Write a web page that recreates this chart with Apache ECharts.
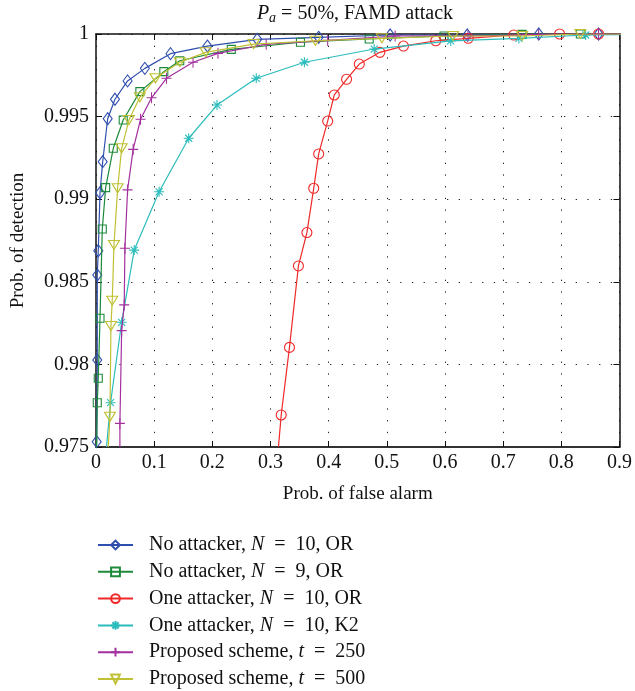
<!DOCTYPE html>
<html>
<head>
<meta charset="utf-8">
<script src="https://cdn.jsdelivr.net/npm/echarts@6/dist/echarts.min.js"></script>
<style>
html,body{margin:0;padding:0;background:#fff;}
#chart{width:635px;height:691px;}
</style>
</head>
<body>
<div id="chart"></div>
<script>
// ---- data (x = prob. of false alarm, y = prob. of detection) ----
const xTicks = [0, 0.1, 0.2, 0.3, 0.4, 0.5, 0.6, 0.7, 0.8, 0.9];
const xTickLabels = ['0', '0.1', '0.2', '0.3', '0.4', '0.5', '0.6', '0.7', '0.8', '0.9'];
const yTicks = [0.975, 0.98, 0.985, 0.99, 0.995, 1];
const yTickLabels = ['0.975', '0.98', '0.985', '0.99', '0.995', '1'];

const seriesNames = [
  'No attacker, N = 10, OR',
  'No attacker, N = 9, OR',
  'One attacker, N = 10, OR',
  'One attacker, N = 10, K2',
  'Proposed scheme, t = 250',
  'Proposed scheme, t = 500'
];
const legendLabels = [
  'No attacker, {i|N}\u2002=\u200210, OR',
  'No attacker, {i|N}\u2002=\u20029, OR',
  'One attacker, {i|N}\u2002=\u200210, OR',
  'One attacker, {i|N}\u2002=\u200210, K2',
  'Proposed scheme, {i|t}\u2002=\u2002250',
  'Proposed scheme, {i|t}\u2002=\u2002500'
];

// marked points
const noAttackerN10 = [
  [0.0012, 0.97532], [0.0022, 0.98027], [0.0022, 0.98541], [0.0039, 0.98688],
  [0.0069, 0.99039], [0.0115, 0.99227], [0.0201, 0.99487], [0.0326, 0.99605],
  [0.0543, 0.99716], [0.0840, 0.99792], [0.1281, 0.99881], [0.1915, 0.99927],
  [0.2772, 0.99968], [0.3828, 0.99980], [0.5057, 0.99994], [0.6383, 0.99994],
  [0.7612, 1.0], [0.864, 1.0]
];
const noAttackerN9 = [
  [0.0022, 0.97768], [0.0039, 0.97916], [0.0069, 0.98279], [0.0108, 0.98820],
  [0.0166, 0.99070], [0.0297, 0.99308], [0.0468, 0.99479], [0.0754, 0.99651],
  [0.1166, 0.99772], [0.1440, 0.99838], [0.2326, 0.99907], [0.3515, 0.99950],
  [0.4697, 0.99970], [0.5983, 0.99988], [0.7326, 0.99998], [0.8327, 1.0]
];
const oneAttackerOR = [
  [0.3184, 0.97694], [0.3326, 0.98103], [0.3480, 0.98596], [0.3626, 0.98798],
  [0.3743, 0.99066], [0.3828, 0.99274], [0.3983, 0.99473], [0.4097, 0.99631],
  [0.4308, 0.99726], [0.4526, 0.99818], [0.4880, 0.99889], [0.5286, 0.99927],
  [0.5841, 0.99959], [0.6400, 0.99974], [0.7183, 0.99994], [0.7970, 1.0],
  [0.8640, 1.0]
];
const oneAttackerK2 = [
  [0.0250, 0.97768], [0.0441, 0.98255], [0.0657, 0.98692], [0.1085, 0.99045],
  [0.1594, 0.99369], [0.2080, 0.99570], [0.2755, 0.99732], [0.3583, 0.99829],
  [0.4783, 0.99909], [0.6098, 0.99958], [0.7270, 0.99973], [0.8418, 0.99994]
];
const proposedT250 = [
  [0.0411, 0.97643], [0.0441, 0.98204], [0.0485, 0.98360], [0.0497, 0.98703],
  [0.0543, 0.99056], [0.0639, 0.99302], [0.0766, 0.99484], [0.0955, 0.99614],
  [0.1212, 0.99732], [0.1668, 0.99829], [0.2097, 0.99883], [0.2926, 0.99938],
  [0.3983, 0.99961], [0.5143, 0.99988], [0.6395, 0.99988], [0.7610, 0.99997],
  [0.8640, 1.0]
];
const proposedT500 = [
  [0.0240, 0.97683], [0.0257, 0.98232], [0.0279, 0.98386], [0.0309, 0.98723],
  [0.0372, 0.99066], [0.0441, 0.99308], [0.0566, 0.99479], [0.0754, 0.99617],
  [0.1023, 0.99732], [0.1440, 0.99829], [0.1886, 0.99889], [0.2709, 0.99939],
  [0.3772, 0.99959], [0.4915, 0.99974], [0.6138, 0.99988], [0.7326, 0.99988],
  [0.8327, 1.0]
];
// unmarked line end points (where each curve leaves the plotted box)
const lowerEnds = [[0.0005, 0.975], [0.001, 0.975], [0.3137, 0.975], [0.018, 0.975], [0.0411, 0.975], [0.0211, 0.975]];
const upperEnds = [[1.0, 1.0], [1.0, 1.0], [1.0, 1.0], [1.0, 1.0], [1.0, 1.0], [1.0, 1.0]];

const colors = ['#2f4fae', '#1c8a3a', '#f02828', '#2bbcbc', '#a3309e', '#c0c034'];
const symbols = [
  'diamond',
  'rect',
  'circle',
  'path://M0,-1L0,1M-1,0L1,0M-0.7,-0.7L0.7,0.7M-0.7,0.7L0.7,-0.7',
  'path://M0,-1L0,1M-1,0L1,0',
  'path://M-1,-0.85L1,-0.85L0,0.85Z'
];
const symbolSizes = [[9, 12], 8, 10, [10, 10], [10, 11], [11, 9]];
const allMarked = [noAttackerN10, noAttackerN9, oneAttackerOR, oneAttackerK2, proposedT250, proposedT500];

const FONT = 'Liberation Serif';

const series = allMarked.map((pts, k) => {
  const data = [{ value: lowerEnds[k], symbol: 'none' }]
    .concat(pts.map(p => ({ value: p })))
    .concat([{ value: upperEnds[k], symbol: 'none' }]);
  return {
    name: seriesNames[k],
    type: 'line',
    xAxisIndex: 0,
    yAxisIndex: 0,
    data: data,
    symbol: symbols[k],
    symbolSize: symbolSizes[k],
    showAllSymbol: true,
    clip: true,
    z: 3 + k,
    lineStyle: { color: colors[k], width: 1.2 },
    itemStyle: { color: 'rgba(0,0,0,0)', borderColor: colors[k], borderWidth: 1.1 },
    emphasis: { disabled: true },
    animation: false
  };
});

const labelFmt = (ticks, labels) => (v) => {
  const i = ticks.findIndex(t => Math.abs(t - v) < 1e-9);
  return i >= 0 ? labels[i] : '';
};

const gridLine = { show: true, lineStyle: { color: '#222', width: 1, type: [1.3, 10.4] } };
const frameLine = { show: true, onZero: false, lineStyle: { color: '#111', width: 1.5 } };

const option = {
  backgroundColor: '#fff',
  animation: false,
  textStyle: { fontFamily: FONT },
  title: {
    text: '{p|P}{sub|a}{r| = 50%, FAMD attack}',
    left: 355,
    top: 2,
    padding: 0,
    textAlign: 'center',
    textStyle: {
      fontFamily: FONT, fontSize: 20, fontWeight: 'normal', color: '#111',
      rich: {
        p: { fontFamily: FONT, fontSize: 20, fontStyle: 'italic', color: '#111' },
        sub: { fontFamily: FONT, fontSize: 14, fontStyle: 'italic', color: '#111', padding: [9, 0, 0, 0] },
        r: { fontFamily: FONT, fontSize: 20, color: '#111' }
      }
    }
  },
  legend: {
    orient: 'vertical',
    left: 97,
    top: 535,
    height: 160,
    padding: 0,
    itemWidth: 35,
    itemHeight: 11,
    itemGap: 6.8,
    selectedMode: false,
    data: seriesNames,
    formatter: (name) => legendLabels[seriesNames.indexOf(name)],
    textStyle: {
      fontFamily: FONT, fontSize: 20, color: '#111', lineHeight: 20,
      padding: [0, 0, 0, 11],
      rich: {
        i: { fontFamily: FONT, fontSize: 20, fontStyle: 'italic', color: '#111', lineHeight: 20 }
      }
    }
  },
  grid: { left: 96, right: 14, top: 34, bottom: 244, containLabel: false },
  xAxis: [
    {
      type: 'value', min: 0, max: 0.9, interval: 0.1, position: 'bottom',
      name: 'Prob. of false alarm', nameLocation: 'middle', nameGap: 38,
      nameTextStyle: { fontFamily: FONT, fontSize: 19, color: '#111' },
      axisLine: { show: true, onZero: false, lineStyle: { color: '#333', width: 2 } },
      axisTick: { show: true, inside: true, length: 6, lineStyle: { color: '#111', width: 1 } },
      axisLabel: { show: true, margin: 6, fontFamily: FONT, fontSize: 20, color: '#111', formatter: labelFmt(xTicks, xTickLabels) },
      splitLine: gridLine
    },
    {
      type: 'value', min: 0, max: 0.9, interval: 0.1, position: 'top',
      axisLine: frameLine,
      axisTick: { show: true, inside: true, length: 6, lineStyle: { color: '#111', width: 1 } },
      axisLabel: { show: false },
      splitLine: { show: false }
    }
  ],
  yAxis: [
    {
      type: 'value', min: 0.975, max: 1, interval: 0.005, position: 'left',
      name: 'Prob. of detection', nameLocation: 'middle', nameGap: 68,
      nameTextStyle: { fontFamily: FONT, fontSize: 19, color: '#111' },
      axisLine: frameLine,
      axisTick: { show: true, inside: true, length: 6, lineStyle: { color: '#111', width: 1 } },
      axisLabel: { show: true, margin: 7, fontFamily: FONT, fontSize: 20, color: '#111', formatter: labelFmt(yTicks, yTickLabels) },
      splitLine: gridLine
    },
    {
      type: 'value', min: 0.975, max: 1, interval: 0.005, position: 'right',
      axisLine: frameLine,
      axisTick: { show: true, inside: true, length: 6, lineStyle: { color: '#111', width: 1 } },
      axisLabel: { show: false },
      splitLine: { show: false }
    }
  ],
  series: series
};

const chart = echarts.init(document.getElementById('chart'), null, { renderer: 'canvas' });
chart.setOption(option);
</script>
</body>
</html>
